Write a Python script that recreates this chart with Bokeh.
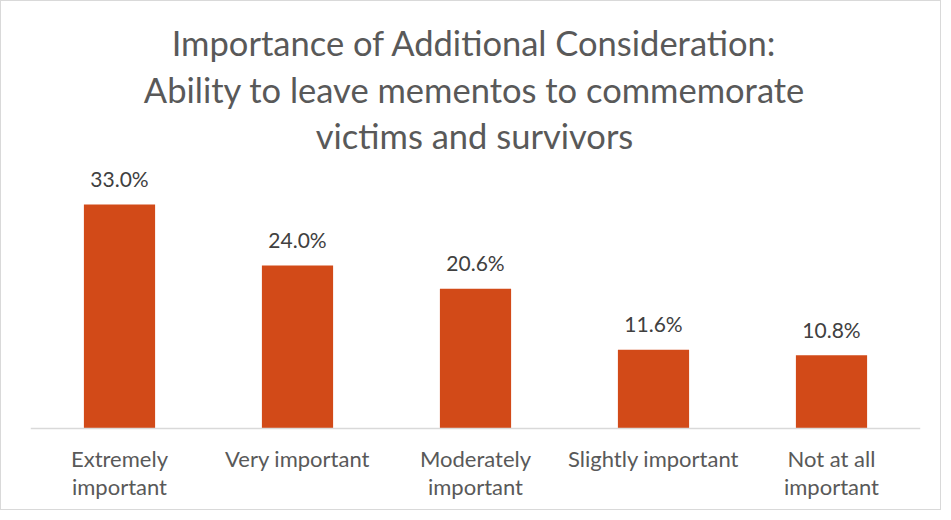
from bokeh.plotting import figure
from bokeh.models import Range1d, Label, Span, ColumnDataSource
from bokeh.core.properties import value
from bokeh.embed import file_html
from bokeh.resources import INLINE

categories = ["Extremely important", "Very important", "Moderately important",
              "Slightly important", "Not at all important"]
tick_line1 = ["Extremely", "Very important", "Moderately", "Slightly important", "Not at all"]
tick_line2 = ["important", "", "important", "", "important"]
values = [33.0, 24.0, 20.6, 11.6, 10.8]
title_lines = ["Importance of Additional Consideration:",
               "Ability to leave mementos to commemorate",
               "victims and survivors"]

FONT = "Lato"
BAR = "#D24A18"
TXT = "#595959"

src = ColumnDataSource(dict(cat=categories, val=values, zero=[0] * len(values),
                            lab=[f"{v:.1f}%" for v in values],
                            t1=tick_line1, t2=tick_line2))

p = figure(x_range=categories, y_range=Range1d(-12.22, 62.9), width=941, height=510,
           output_backend="svg", toolbar_location=None,
           min_border_left=29, min_border_right=22, min_border_top=0,
           min_border_bottom=0, styles={"border": "1px solid #d9d9d9"})
p.outline_line_color = None
p.xgrid.grid_line_color = None
p.ygrid.grid_line_color = None
p.xaxis.visible = False
p.yaxis.visible = False

p.vbar(x="cat", top="val", width=0.4, source=src, fill_color=BAR, line_color=None)
p.add_layout(Span(location=0, dimension="width", line_color="#d9d9d9", line_width=1.5))
p.text(x="cat", y="val", text="lab", source=src, y_offset=-26,
       text_align="center", text_baseline="alphabetic",
       text_font=value(FONT), text_font_size="21px", text_color="#404040")

for col, off in (("t1", 30), ("t2", 58)):
    p.text(x="cat", y="zero", text=col, source=src, y_offset=off,
           text_align="center", text_baseline="middle",
           text_font=value(FONT), text_font_size="22px", text_color=TXT)

for i, line in enumerate(title_lines):
    p.add_layout(Label(x=444, y=469 - 46.5 * i, x_units="screen", y_units="screen",
                       text=line, text_align="center", text_baseline="middle",
                       text_font=FONT, text_font_size="34.5px", text_color=TXT))

open("out.html", "w").write(file_html(p, INLINE))
